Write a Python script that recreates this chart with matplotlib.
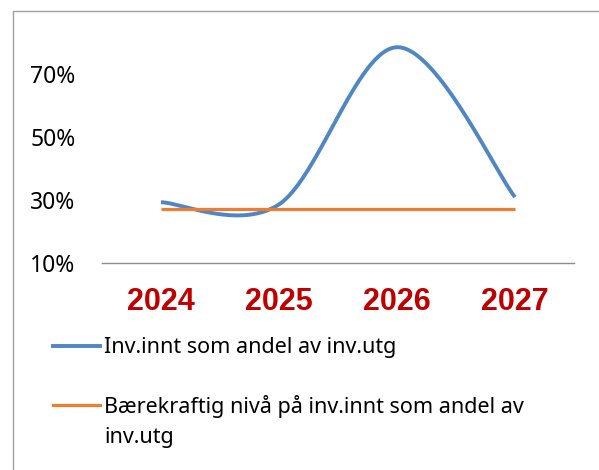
import numpy as np
import matplotlib.pyplot as plt
from matplotlib.lines import Line2D
from matplotlib.patches import Rectangle

years = ['2024', '2025', '2026', '2027']
inv_share = [0.293, 0.286, 0.785, 0.309]
sustainable = [0.271, 0.271, 0.271, 0.271]
y_ticks = [0.10, 0.30, 0.50, 0.70]
labels = ['Inv.innt som andel av inv.utg',
          'Bærekraftig nivå på inv.innt som andel av\ninv.utg']

W, H = 599, 470
BLUE = '#4f86c3'
ORANGE = '#ed7d31'


def smooth(xs, ys, n=60):
    # excel-style smoothed line: cubic bezier, control points at 1/6 of neighbour slope
    xs = np.asarray(xs, float)
    ys = np.asarray(ys, float)
    px = np.concatenate([[xs[0]], xs, [xs[-1]]])
    py = np.concatenate([[ys[0]], ys, [ys[-1]]])
    outx, outy = [], []
    t = np.linspace(0, 1, n)
    for i in range(1, len(px) - 2):
        p0 = np.array([px[i], py[i]])
        p3 = np.array([px[i + 1], py[i + 1]])
        c1 = p0 + (np.array([px[i + 1], py[i + 1]]) - np.array([px[i - 1], py[i - 1]])) / 6
        c2 = p3 - (np.array([px[i + 2], py[i + 2]]) - np.array([px[i], py[i]])) / 6
        b = ((1 - t) ** 3)[:, None] * p0 + (3 * (1 - t) ** 2 * t)[:, None] * c1 \
            + (3 * (1 - t) * t ** 2)[:, None] * c2 + (t ** 3)[:, None] * p3
        outx.extend(b[:, 0])
        outy.extend(b[:, 1])
    return outx, outy


fig = plt.figure(figsize=(W / 100, H / 100), dpi=100)

# chart area border
fig.add_artist(Rectangle((13 / W, -0.1), 1.2, (H - 11) / H + 0.1, transform=fig.transFigure,
                         fill=False, edgecolor='#a0a0a0', lw=1.0))

ax = fig.add_axes([102 / W, (H - 263) / H, 472 / W, (263 - 26.75) / H])
x = np.arange(len(years))
sx, sy = smooth(x, inv_share)
ax.plot(sx, sy, color=BLUE, lw=2.8, solid_capstyle='butt')
ax.plot(x, sustainable, color=ORANGE, lw=2.3, solid_capstyle='butt')

ax.set_xlim(-0.5, 3.5)
ax.set_ylim(0.10, 0.85)
ax.set_yticks(y_ticks)
ax.set_yticklabels([f'{int(round(v * 100))}%' for v in y_ticks],
                   fontsize=16.5, family='Noto Sans', color='black')
ax.set_xticks(x)
ax.set_xticklabels(years, fontsize=22, fontweight='bold', family='Liberation Sans',
                   color='#c00000')
ax.tick_params(axis='y', length=0, pad=19)
ax.tick_params(axis='x', length=0, pad=17)
for s in ['top', 'right', 'left']:
    ax.spines[s].set_visible(False)
ax.spines['bottom'].set_color('#8c8c8c')
ax.spines['bottom'].set_linewidth(1.0)

# legend drawn by hand to keep the wrapped second entry aligned to its first line
for col, lw, yy, lab in [(BLUE, 2.8, 345.5, labels[0]), (ORANGE, 2.3, 404.5, labels[1])]:
    fig.add_artist(Line2D([53 / W, 100 / W], [(H - yy) / H] * 2, color=col, lw=lw,
                          transform=fig.transFigure))
    fig.text(104 / W, (H - yy + 9) / H, lab, fontsize=15.5, family='Noto Sans',
             va='top', ha='left', linespacing=1.55)

fig.savefig('out.png', dpi=100)
